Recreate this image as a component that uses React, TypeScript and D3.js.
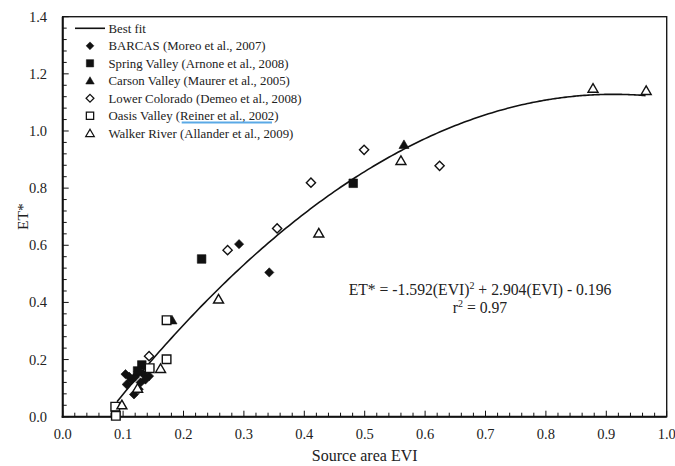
import React from "react";
import * as d3 from "d3";

// ---- data ----
const barcas: [number, number][] = [
  [0.292, 0.604], [0.342, 0.505],
  [0.104, 0.149], [0.106, 0.113], [0.118, 0.078], [0.126, 0.096],
  [0.143, 0.142], [0.120, 0.140], [0.114, 0.128], [0.125, 0.157],
  [0.133, 0.150], [0.110, 0.140], [0.137, 0.130], [0.129, 0.120],
];
const springValley: [number, number][] = [
  [0.481, 0.817], [0.230, 0.552], [0.131, 0.181], [0.124, 0.160],
];
const carsonValley: [number, number][] = [
  [0.565, 0.952], [0.181, 0.338],
];
const lowerColorado: [number, number][] = [
  [0.499, 0.934], [0.624, 0.878], [0.411, 0.819], [0.355, 0.659],
  [0.273, 0.583], [0.143, 0.212],
];
const oasisValley: [number, number][] = [
  [0.172, 0.338], [0.172, 0.201], [0.087, 0.035], [0.088, 0.003],
  [0.144, 0.170],
];
const walkerRiver: [number, number][] = [
  [0.878, 1.149], [0.966, 1.141], [0.560, 0.896], [0.424, 0.642],
  [0.258, 0.411], [0.162, 0.168], [0.098, 0.041], [0.124, 0.099],
];

// best-fit equation printed on the chart
const fitCoef = { a: -1.592, b: 2.904, c: -0.196 };
const fitRange: [number, number] = [0.09, 0.965];

const xTicks = [0, 0.1, 0.2, 0.3, 0.4, 0.5, 0.6, 0.7, 0.8, 0.9, 1.0];
const yTicks = [0, 0.2, 0.4, 0.6, 0.8, 1.0, 1.2, 1.4];

const legendLabels = [
  "Best fit",
  "BARCAS (Moreo et al., 2007)",
  "Spring Valley (Arnone et al., 2008)",
  "Carson Valley (Maurer et al., 2005)",
  "Lower Colorado (Demeo et al., 2008)",
  "Oasis Valley (Reiner et al., 2002)",
  "Walker River (Allander et al., 2009)",
];

const FONT = "'Liberation Serif', 'Times New Roman', serif";

function markerPath(kind: string): string {
  if (kind === "diamond") return "M0,-4.6L4.6,0L0,4.6L-4.6,0Z";
  if (kind === "square") return "M-4.3,-4.3H4.3V4.3H-4.3Z";
  return "M0,-4.8L5,3.8L-5,3.8Z";
}

export default function App() {
  const W = 675, H = 466;
  const L = 62.7, R = 666.7, T = 16.7, B = 416.7;
  const x = d3.scaleLinear().domain([0, 1]).range([L, R]);
  const y = d3.scaleLinear().domain([0, 1.4]).range([B, T]);

  const fitXs = d3.range(fitRange[0], fitRange[1] + 1e-9, 0.005);
  const line = d3
    .line<number>()
    .x((v) => x(v))
    .y((v) => y(fitCoef.a * v * v + fitCoef.b * v + fitCoef.c))
    .curve(d3.curveMonotoneX);

  const xMinor = d3.range(0, 1.0001, 0.02);
  const yMinor = d3.range(0, 1.4001, 0.04);

  const series = [
    { data: barcas, kind: "diamond", filled: true },
    { data: springValley, kind: "square", filled: true },
    { data: carsonValley, kind: "triangle", filled: true },
    { data: lowerColorado, kind: "diamond", filled: false },
    { data: oasisValley, kind: "square", filled: false },
    { data: walkerRiver, kind: "triangle", filled: false },
  ];

  const legX = 90, legY0 = 28.3, legDy = 17.5;

  return (
    <svg
      width={W}
      height={H}
      style={{ position: "absolute", left: 0, top: 0, background: "#fff" }}
      fontFamily={FONT}
    >
      <rect x={0} y={0} width={W} height={H} fill="#fff" />
      {/* frame */}
      <rect x={L} y={T} width={R - L} height={B - T} fill="none" stroke="#1a1a1a" strokeWidth={1.4} />
      <line x1={L} x2={L} y1={T} y2={B + 1} stroke="#111" strokeWidth={2} />
      <line x1={L - 1} x2={R} y1={B} y2={B} stroke="#111" strokeWidth={2} />

      {/* minor ticks */}
      {xMinor.map((v, i) => (
        <line key={"xm" + i} x1={x(v)} x2={x(v)} y1={B} y2={B - (i % 5 === 0 ? 6 : 4)} stroke="#111" strokeWidth={1} />
      ))}
      {yMinor.map((v, i) => (
        <line key={"ym" + i} x1={L} x2={L + (i % 5 === 0 ? 6 : 4)} y1={y(v)} y2={y(v)} stroke="#111" strokeWidth={1} />
      ))}

      {/* tick labels */}
      {xTicks.map((v) => (
        <text key={"xt" + v} x={x(v)} y={438.5} textAnchor="middle" fontSize={14.5} fill="#222">
          {v.toFixed(1)}
        </text>
      ))}
      {yTicks.map((v) => (
        <text key={"yt" + v} x={47} y={y(v) + 5} textAnchor="end" fontSize={14.5} fill="#222">
          {v.toFixed(1)}
        </text>
      ))}

      {/* axis titles */}
      <text x={(L + R) / 2} y={461} textAnchor="middle" fontSize={16} fill="#222">
        Source area EVI
      </text>
      <text
        transform={`translate(27.5, ${(T + B) / 2}) rotate(-90)`}
        textAnchor="middle"
        fontSize={15.5}
        fill="#222"
      >
        ET*
      </text>

      {/* fit line */}
      <path d={line(fitXs) || ""} fill="none" stroke="#111" strokeWidth={1.6} />

      {/* points */}
      {series.map((s, si) =>
        s.data.map((p, pi) => (
          <path
            key={`p${si}-${pi}`}
            d={markerPath(s.kind)}
            transform={`translate(${x(p[0])},${y(p[1])})`}
            fill={s.filled ? "#111" : "#fff"}
            stroke="#111"
            strokeWidth={s.filled ? 0.6 : 1.4}
          />
        ))
      )}

      {/* legend */}
      <line x1={75} x2={105} y1={legY0} y2={legY0} stroke="#111" strokeWidth={1.6} />
      {series.map((s, si) => (
        <path
          key={"lg" + si}
          d={markerPath(s.kind)}
          transform={`translate(${legX},${legY0 + legDy * (si + 1)}) scale(0.85)`}
          fill={s.filled ? "#111" : "#fff"}
          stroke="#111"
          strokeWidth={s.filled ? 0.6 : 1.5}
        />
      ))}
      {legendLabels.map((t, i) => (
        <text key={"lt" + i} x={108.5} y={legY0 + legDy * i + 4.5} fontSize={12.8} fill="#222">
          {t}
        </text>
      ))}
      <line x1={181.7} x2={272} y1={122.5} y2={122.5} stroke="#5aa9e6" strokeWidth={1.8} />

      {/* equation */}
      <text x={480} y={295} textAnchor="middle" fontSize={15.7} fill="#222">
        ET* = -1.592(EVI)<tspan dy={-6} fontSize={10}>2</tspan>
        <tspan dy={6}> + 2.904(EVI) - 0.196</tspan>
      </text>
      <text x={480} y={312.5} textAnchor="middle" fontSize={15.7} fill="#222">
        r<tspan dy={-6} fontSize={10}>2</tspan>
        <tspan dy={6}> = 0.97</tspan>
      </text>
    </svg>
  );
}
